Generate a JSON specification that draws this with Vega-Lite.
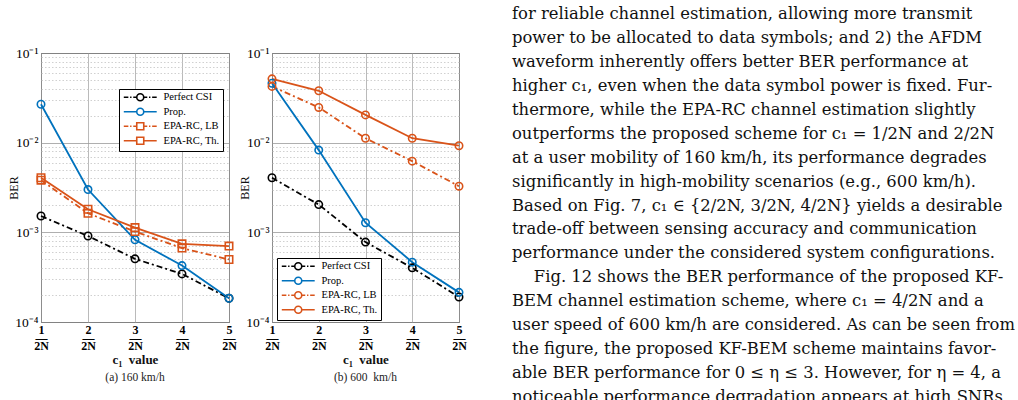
{
  "$schema": "https://vega.github.io/schema/vega-lite/v6.json",
  "background": "white",
  "padding": {"left": 7, "top": 6, "right": 0, "bottom": 0},
  "bounds": "flush",
  "spacing": 43,
  "resolve": {"scale": {"color": "independent"}, "legend": {"color": "independent"}},
  "datasets": {
    "ber": [
      {"panel": "a", "series": "Perfect CSI", "c1": 1, "ber": 0.00152},
      {"panel": "a", "series": "Perfect CSI", "c1": 2, "ber": 0.00091},
      {"panel": "a", "series": "Perfect CSI", "c1": 3, "ber": 0.000506},
      {"panel": "a", "series": "Perfect CSI", "c1": 4, "ber": 0.000344},
      {"panel": "a", "series": "Perfect CSI", "c1": 5, "ber": 0.000184},
      {"panel": "a", "series": "Prop.", "c1": 1, "ber": 0.0268},
      {"panel": "a", "series": "Prop.", "c1": 2, "ber": 0.0030},
      {"panel": "a", "series": "Prop.", "c1": 3, "ber": 0.000826},
      {"panel": "a", "series": "Prop.", "c1": 4, "ber": 0.000426},
      {"panel": "a", "series": "Prop.", "c1": 5, "ber": 0.000184},
      {"panel": "a", "series": "EPA-RC, LB", "c1": 1, "ber": 0.00382},
      {"panel": "a", "series": "EPA-RC, LB", "c1": 2, "ber": 0.00163},
      {"panel": "a", "series": "EPA-RC, LB", "c1": 3, "ber": 0.00102},
      {"panel": "a", "series": "EPA-RC, LB", "c1": 4, "ber": 0.000667},
      {"panel": "a", "series": "EPA-RC, LB", "c1": 5, "ber": 0.000498},
      {"panel": "a", "series": "EPA-RC, Th.", "c1": 1, "ber": 0.00406},
      {"panel": "a", "series": "EPA-RC, Th.", "c1": 2, "ber": 0.00181},
      {"panel": "a", "series": "EPA-RC, Th.", "c1": 3, "ber": 0.00113},
      {"panel": "a", "series": "EPA-RC, Th.", "c1": 4, "ber": 0.000745},
      {"panel": "a", "series": "EPA-RC, Th.", "c1": 5, "ber": 0.000703},
      {"panel": "b", "series": "Perfect CSI", "c1": 1, "ber": 0.00406},
      {"panel": "b", "series": "Perfect CSI", "c1": 2, "ber": 0.00204},
      {"panel": "b", "series": "Perfect CSI", "c1": 3, "ber": 0.000778},
      {"panel": "b", "series": "Perfect CSI", "c1": 4, "ber": 0.000402},
      {"panel": "b", "series": "Perfect CSI", "c1": 5, "ber": 0.00019},
      {"panel": "b", "series": "Prop.", "c1": 1, "ber": 0.046},
      {"panel": "b", "series": "Prop.", "c1": 2, "ber": 0.00826},
      {"panel": "b", "series": "Prop.", "c1": 3, "ber": 0.00128},
      {"panel": "b", "series": "Prop.", "c1": 4, "ber": 0.000465},
      {"panel": "b", "series": "Prop.", "c1": 5, "ber": 0.000214},
      {"panel": "b", "series": "EPA-RC, LB", "c1": 1, "ber": 0.0424},
      {"panel": "b", "series": "EPA-RC, LB", "c1": 2, "ber": 0.0247},
      {"panel": "b", "series": "EPA-RC, LB", "c1": 3, "ber": 0.0112},
      {"panel": "b", "series": "EPA-RC, LB", "c1": 4, "ber": 0.00622},
      {"panel": "b", "series": "EPA-RC, LB", "c1": 5, "ber": 0.00327},
      {"panel": "b", "series": "EPA-RC, Th.", "c1": 1, "ber": 0.0515},
      {"panel": "b", "series": "EPA-RC, Th.", "c1": 2, "ber": 0.0379},
      {"panel": "b", "series": "EPA-RC, Th.", "c1": 3, "ber": 0.0204},
      {"panel": "b", "series": "EPA-RC, Th.", "c1": 4, "ber": 0.0112},
      {"panel": "b", "series": "EPA-RC, Th.", "c1": 5, "ber": 0.00925}
    ],
    "page": [
      {"line": 0, "text": "for reliable channel estimation, allowing more transmit"},
      {"line": 1, "text": "power to be allocated to data symbols; and 2) the AFDM"},
      {"line": 2, "text": "waveform inherently offers better BER performance at"},
      {"line": 3, "text": "higher c₁, even when the data symbol power is fixed. Fur-"},
      {"line": 4, "text": "thermore, while the EPA-RC channel estimation slightly"},
      {"line": 5, "text": "outperforms the proposed scheme for c₁ = 1/2N and 2/2N"},
      {"line": 6, "text": "at a user mobility of 160 km/h, its performance degrades"},
      {"line": 7, "text": "significantly in high-mobility scenarios (e.g., 600 km/h)."},
      {"line": 8, "text": "Based on Fig. 7, c₁ ∈ {2/2N, 3/2N, 4/2N} yields a desirable"},
      {"line": 9, "text": "trade-off between sensing accuracy and communication"},
      {"line": 10, "text": "performance under the considered system configurations."},
      {"line": 11, "text": "\u200c\u2003\u2004Fig. 12 shows the BER performance of the proposed KF-"},
      {"line": 12, "text": "BEM channel estimation scheme, where c₁ = 4/2N and a"},
      {"line": 13, "text": "user speed of 600 km/h are considered. As can be seen from"},
      {"line": 14, "text": "the figure, the proposed KF-BEM scheme maintains favor-"},
      {"line": 15, "text": "able BER performance for 0 ≤ η ≤ 3. However, for η = 4, a"},
      {"line": 16, "text": "noticeable performance degradation appears at high SNRs"}
    ]
  },
  "hconcat": [
    {
      "width": 188,
      "height": 269,
      "data": {"name": "ber"},
      "transform": [{"filter": "datum.panel == 'a'"}],
      "title": {"text": "(a) 160 km/h", "orient": "bottom", "font": "Liberation Serif", "fontSize": 11.5, "fontWeight": "normal", "color": "#222222", "offset": 6},
      "encoding": {
        "x": {
          "field": "c1", "type": "quantitative",
          "scale": {"domain": [1, 5], "nice": false, "zero": false},
          "axis": {
            "values": [1, 2, 3, 4, 5],
            "labelExpr": "[datum.label, '—', '2N']",
            "labelFont": "Liberation Serif", "labelFontSize": 12, "labelFontWeight": "bold",
            "labelLineHeight": 8, "labelColor": "#000000", "labelPadding": 2,
            "labelFlush": false, "labelOverlap": false, "labelBound": false,
            "ticks": false, "domain": false,
            "grid": true, "gridColor": "#a8a8a8", "gridWidth": 0.8,
            "title": "c₁\u2002value", "titleFont": "Liberation Serif", "titleFontSize": 13,
            "titleFontWeight": "bold", "titleColor": "#111111", "titlePadding": 2
          }
        },
        "y": {
          "field": "ber", "type": "quantitative",
          "scale": {"type": "log", "domain": [0.0001, 0.1], "nice": false},
          "axis": {
            "values": [0.0001, 0.0002, 0.0003, 0.0004, 0.0005, 0.0006, 0.0007, 0.0008, 0.0009, 0.001, 0.002, 0.003, 0.004, 0.005, 0.006, 0.007, 0.008, 0.009, 0.01, 0.02, 0.03, 0.04, 0.05, 0.06, 0.07, 0.08, 0.09, 0.1],
            "labelExpr": "datum.value == 0.1 ? '10⁻¹' : datum.value == 0.01 ? '10⁻²' : datum.value == 0.001 ? '10⁻³' : datum.value == 0.0001 ? '10⁻⁴' : ''",
            "labelFont": "Liberation Serif", "labelFontSize": 13.5, "labelColor": "#000000",
            "labelPadding": 3, "labelOverlap": false, "labelFlush": false,
            "ticks": false, "domain": false,
            "grid": true,
            "gridColor": {"condition": {"test": "datum.value == 0.1 || datum.value == 0.01 || datum.value == 0.001 || datum.value == 0.0001", "value": "#9a9a9a"}, "value": "#c4c4c4"},
            "gridDash": {"condition": {"test": "datum.value == 0.1 || datum.value == 0.01 || datum.value == 0.001 || datum.value == 0.0001", "value": []}, "value": [1.5, 2]},
            "gridWidth": 0.8,
            "title": "BER", "titleFont": "Liberation Serif", "titleFontSize": 12, "titleFontWeight": "normal",
            "titleColor": "#111111", "titlePadding": -6
          }
        },
        "color": {
          "field": "series", "type": "nominal",
          "scale": {"domain": ["Perfect CSI", "Prop.", "EPA-RC, LB", "EPA-RC, Th."], "range": ["#000000", "#0072BD", "#D95319", "#D95319"]},
          "legend": {
            "orient": "none", "legendX": 78, "legendY": 36, "title": null,
            "fillColor": "white", "strokeColor": "#000000", "padding": 3,
            "labelFont": "Liberation Serif", "labelFontSize": 10.5, "labelColor": "#000000",
            "symbolSize": 49, "symbolStrokeWidth": 1.6, "symbolOffset": 13, "labelOffset": 18,
            "rowPadding": 0.5, "symbolOpacity": 1, "symbolDash": [],
            "encode": {"symbols": {"update": {
              "fill": {"value": "transparent"},
              "shape": {"signal": "datum.value === 'Perfect CSI' ? 'M-4.7,0H-3.4M-2.9,0H-2.5M-2,0H-1M1,0H2M2.5,0H2.9M3.4,0H4.7M-1,0A1,1,0,1,1,1,0A1,1,0,1,1,-1,0' : datum.value === 'Prop.' ? 'M-4.7,0H-1M1,0H4.7M-1,0A1,1,0,1,1,1,0A1,1,0,1,1,-1,0' : datum.value === 'EPA-RC, LB' ? 'M-4.7,0H-3.4M-2.9,0H-2.5M-2,0H-1M1,0H2M2.5,0H2.9M3.4,0H4.7M-1,-1H1V1H-1Z' : 'M-4.7,0H-1M1,0H4.7M-1,-1H1V1H-1Z'"}
            }}}
          }
        }
      },
      "layer": [
        {
          "transform": [{"filter": "datum.series == 'Perfect CSI' || datum.series == 'EPA-RC, LB'"}],
          "mark": {"type": "line", "strokeWidth": 1.8, "strokeDash": [6, 3, 2, 3]}
        },
        {
          "transform": [{"filter": "datum.series == 'Prop.' || datum.series == 'EPA-RC, Th.'"}],
          "mark": {"type": "line", "strokeWidth": 1.8}
        },
        {
          "transform": [{"filter": "datum.series == 'Perfect CSI' || datum.series == 'Prop.'"}],
          "mark": {"type": "point", "shape": "circle", "filled": false, "strokeWidth": 1.6, "size": 55, "opacity": 1}
        },
        {
          "transform": [{"filter": "datum.series == 'EPA-RC, LB' || datum.series == 'EPA-RC, Th.'"}],
          "mark": {"type": "point", "shape": "square", "filled": false, "strokeWidth": 1.6, "size": 55, "opacity": 1}
        }
      ]
    },
    {
      "width": 187,
      "height": 269,
      "data": {"name": "ber"},
      "transform": [{"filter": "datum.panel == 'b'"}],
      "title": {"text": "(b) 600\u00a0 km/h", "orient": "bottom", "font": "Liberation Serif", "fontSize": 11.5, "fontWeight": "normal", "color": "#222222", "offset": 6},
      "encoding": {
        "x": {
          "field": "c1", "type": "quantitative",
          "scale": {"domain": [1, 5], "nice": false, "zero": false},
          "axis": {
            "values": [1, 2, 3, 4, 5],
            "labelExpr": "[datum.label, '—', '2N']",
            "labelFont": "Liberation Serif", "labelFontSize": 12, "labelFontWeight": "bold",
            "labelLineHeight": 8, "labelColor": "#000000", "labelPadding": 2,
            "labelFlush": false, "labelOverlap": false, "labelBound": false,
            "ticks": false, "domain": false,
            "grid": true, "gridColor": "#a8a8a8", "gridWidth": 0.8,
            "title": "c₁\u2002value", "titleFont": "Liberation Serif", "titleFontSize": 13,
            "titleFontWeight": "bold", "titleColor": "#111111", "titlePadding": 2
          }
        },
        "y": {
          "field": "ber", "type": "quantitative",
          "scale": {"type": "log", "domain": [0.0001, 0.1], "nice": false},
          "axis": {
            "values": [0.0001, 0.0002, 0.0003, 0.0004, 0.0005, 0.0006, 0.0007, 0.0008, 0.0009, 0.001, 0.002, 0.003, 0.004, 0.005, 0.006, 0.007, 0.008, 0.009, 0.01, 0.02, 0.03, 0.04, 0.05, 0.06, 0.07, 0.08, 0.09, 0.1],
            "labelExpr": "datum.value == 0.1 ? '10⁻¹' : datum.value == 0.01 ? '10⁻²' : datum.value == 0.001 ? '10⁻³' : datum.value == 0.0001 ? '10⁻⁴' : ''",
            "labelFont": "Liberation Serif", "labelFontSize": 13.5, "labelColor": "#000000",
            "labelPadding": 3, "labelOverlap": false, "labelFlush": false,
            "ticks": false, "domain": false,
            "grid": true,
            "gridColor": {"condition": {"test": "datum.value == 0.1 || datum.value == 0.01 || datum.value == 0.001 || datum.value == 0.0001", "value": "#9a9a9a"}, "value": "#c4c4c4"},
            "gridDash": {"condition": {"test": "datum.value == 0.1 || datum.value == 0.01 || datum.value == 0.001 || datum.value == 0.0001", "value": []}, "value": [1.5, 2]},
            "gridWidth": 0.8,
            "title": "BER", "titleFont": "Liberation Serif", "titleFontSize": 12, "titleFontWeight": "normal",
            "titleColor": "#111111", "titlePadding": -6
          }
        },
        "color": {
          "field": "series", "type": "nominal",
          "scale": {"domain": ["Perfect CSI", "Prop.", "EPA-RC, LB", "EPA-RC, Th."], "range": ["#000000", "#0072BD", "#D95319", "#D95319"]},
          "legend": {
            "orient": "none", "legendX": 5, "legendY": 205, "title": null,
            "fillColor": "white", "strokeColor": "#000000", "padding": 3,
            "labelFont": "Liberation Serif", "labelFontSize": 10.5, "labelColor": "#000000",
            "symbolSize": 49, "symbolStrokeWidth": 1.6, "symbolOffset": 13, "labelOffset": 18,
            "rowPadding": 0.5, "symbolOpacity": 1, "symbolDash": [],
            "encode": {"symbols": {"update": {
              "fill": {"value": "transparent"},
              "shape": {"signal": "(datum.value === 'Perfect CSI' || datum.value === 'EPA-RC, LB') ? 'M-4.7,0H-3.4M-2.9,0H-2.5M-2,0H-1M1,0H2M2.5,0H2.9M3.4,0H4.7M-1,0A1,1,0,1,1,1,0A1,1,0,1,1,-1,0' : 'M-4.7,0H-1M1,0H4.7M-1,0A1,1,0,1,1,1,0A1,1,0,1,1,-1,0'"}
            }}}
          }
        }
      },
      "layer": [
        {
          "transform": [{"filter": "datum.series == 'Perfect CSI' || datum.series == 'EPA-RC, LB'"}],
          "mark": {"type": "line", "strokeWidth": 1.8, "strokeDash": [6, 3, 2, 3]}
        },
        {
          "transform": [{"filter": "datum.series == 'Prop.' || datum.series == 'EPA-RC, Th.'"}],
          "mark": {"type": "line", "strokeWidth": 1.8}
        },
        {
          "mark": {"type": "point", "shape": "circle", "filled": false, "strokeWidth": 1.6, "size": 55, "opacity": 1}
        }
      ]
    },
    {
      "width": 510,
      "height": 269,
      "view": {"stroke": null},
      "data": {"name": "page"},
      "mark": {"type": "text", "align": "left", "baseline": "middle", "font": "DejaVu Serif", "fontSize": 16.4, "color": "#111111"},
      "encoding": {
        "x": {"datum": 0, "type": "quantitative", "scale": {"domain": [-0.0196, 0.9804], "nice": false, "zero": false}, "axis": null},
        "y": {"field": "line", "type": "quantitative", "scale": {"domain": [1.629, 12.865], "reverse": true, "nice": false, "zero": false}, "axis": null},
        "text": {"field": "text"}
      }
    }
  ],
  "config": {
    "view": {"stroke": "#262626", "strokeWidth": 1},
    "font": "Liberation Serif"
  }
}
